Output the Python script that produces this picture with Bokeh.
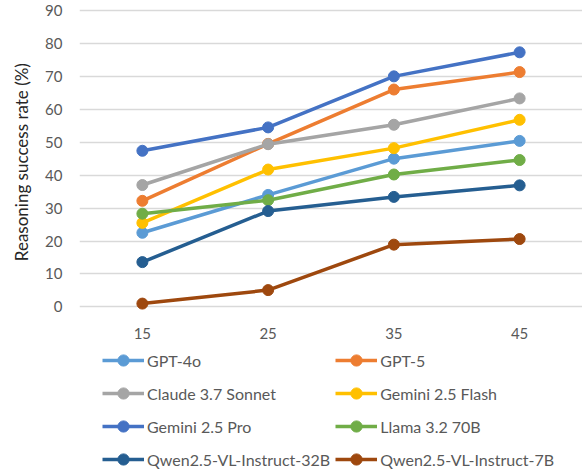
from bokeh.plotting import figure
from bokeh.layouts import column
from bokeh.models import Legend, LegendItem, Range1d, ColumnDataSource
from bokeh.embed import file_html
from bokeh.resources import INLINE

categories = ["15", "25", "35", "45"]
series_names = ["GPT-4o", "GPT-5", "Claude 3.7 Sonnet", "Gemini 2.5 Flash",
                "Gemini 2.5 Pro", "Llama 3.2 70B", "Qwen2.5-VL-Instruct-32B",
                "Qwen2.5-VL-Instruct-7B"]
gpt4o = [22.5, 34.0, 45.0, 50.4]
gpt5 = [32.2, 49.5, 66.0, 71.3]
claude = [37.0, 49.4, 55.3, 63.3]
flash = [25.5, 41.7, 48.2, 56.8]
pro = [47.4, 54.5, 70.0, 77.3]
llama = [28.3, 32.4, 40.2, 44.6]
qwen32 = [13.6, 29.1, 33.4, 36.9]
qwen7 = [1.0, 5.1, 18.9, 20.6]
series_values = [gpt4o, gpt5, claude, flash, pro, llama, qwen32, qwen7]
colors = ["#5B9BD5", "#ED7D31", "#A5A5A5", "#FFC000",
          "#4472C4", "#70AD47", "#255E91", "#9E480E"]
y_ticks = [0, 10, 20, 30, 40, 50, 60, 70, 80, 90]

FONT = "Lato"
LINE_W = 3.5
MARK = 11

p = figure(frame_width=503, frame_height=303, x_range=categories,
           y_range=Range1d(-1.4, 90.6), output_backend="svg",
           toolbar_location=None, min_border_top=8, min_border_right=0,
           min_border_left=79, min_border_bottom=0)
p.outline_line_color = None
p.background_fill_color = "white"
p.border_fill_color = "white"

for ax in (p.xaxis, p.yaxis):
    ax.axis_line_color = None
    ax.major_tick_line_color = None
    ax.minor_tick_line_color = None
    ax.major_tick_out = 0
    ax.major_tick_in = 0
    ax.minor_tick_out = 0
    ax.minor_tick_in = 0
    ax.major_label_text_color = "#595959"
    ax.major_label_text_font = FONT
    ax.major_label_text_font_size = "15px"

p.yaxis.ticker = y_ticks
p.yaxis.major_label_standoff = 17
p.yaxis.axis_label = "Reasoning success rate  (%)"
p.yaxis.axis_label_text_font = FONT
p.yaxis.axis_label_text_font_style = "normal"
p.yaxis.axis_label_text_font_size = "17px"
p.yaxis.axis_label_text_color = "#262626"
p.yaxis.axis_label_standoff = 10

p.xaxis.major_label_standoff = 16

p.xgrid.grid_line_color = None
p.ygrid.grid_line_color = "#D9D9D9"
p.ygrid.grid_line_width = 1.5

for vals, col in zip(series_values, colors):
    src = ColumnDataSource(dict(x=categories, y=vals))
    p.line("x", "y", source=src, line_color=col, line_width=LINE_W)
    p.scatter("x", "y", source=src, size=MARK, fill_color=col,
              line_color=col, marker="circle")

# legend panel below the chart
lg = figure(width=582, height=134, output_backend="svg", toolbar_location=None,
            min_border_left=79, min_border_top=0, min_border_right=0,
            min_border_bottom=0, x_range=Range1d(0, 1), y_range=Range1d(0, 1))
lg.axis.visible = False
lg.grid.visible = False
lg.outline_line_color = None

items = []
for name, col in zip(series_names, colors):
    hidden = ColumnDataSource(dict(x=[5, 6], y=[5, 5]))
    r1 = lg.line("x", "y", source=hidden, line_color=col, line_width=LINE_W)
    r2 = lg.scatter("x", "y", source=hidden, size=MARK, fill_color=col,
                    line_color=col, marker="circle")
    items.append(LegendItem(label=name, renderers=[r1, r2]))

legend = Legend(items=items, ncols=2, orientation="horizontal",
                location=(23, 2),
                glyph_width=42, glyph_height=28, label_standoff=3,
                spacing=5, padding=0, margin=0,
                label_text_font=FONT, label_text_font_size="16px",
                label_text_color="#595959",
                border_line_color=None, background_fill_alpha=0)
lg.add_layout(legend, "center")

open("out.html", "w").write(file_html(column(p, lg), INLINE))
